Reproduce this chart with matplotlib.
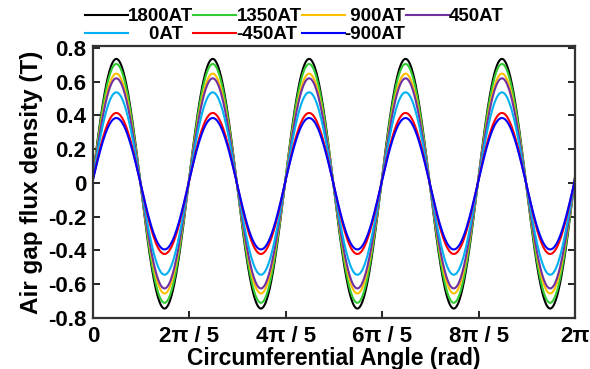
import numpy as np
import matplotlib.pyplot as plt

plt.rcParams['font.family'] = ['Liberation Sans', 'DejaVu Sans']
plt.rcParams['font.weight'] = 'bold'

# currents and peak values (T)
labels = ['1800AT', '1350AT', ' 900AT', '450AT', '    0AT', '-450AT', '-900AT']
colors = ['#000000', '#33cc33', '#ffc000', '#7030a0', '#00b0f0', '#ff0000', '#0000ff']
peak_pos = [0.734, 0.704, 0.647, 0.619, 0.536, 0.414, 0.384]
peak_neg = [0.744, 0.710, 0.655, 0.625, 0.544, 0.421, 0.394]
pole_pairs = 5
phase = 0.05

tick_pos = [0, 2*np.pi/5, 4*np.pi/5, 6*np.pi/5, 8*np.pi/5, 2*np.pi]
tick_lab = ['0', '2π / 5', '4π / 5', '6π / 5', '8π / 5', '2π']
ytick_pos = [-0.8, -0.6, -0.4, -0.2, 0, 0.2, 0.4, 0.6, 0.8]
ytick_lab = ['-0.8', '-0.6', '-0.4', '-0.2', '0', '0.2', '0.4', '0.6', '0.8']

theta = np.linspace(0, 2*np.pi, 1000)
wave = np.sin(pole_pairs*theta + phase)

fig = plt.figure(figsize=(5.9, 3.69), dpi=100)
ax = fig.add_axes([0.1576, 0.1382, 0.817, 0.737])

lines = []
for lab, c, ap, an in zip(labels, colors, peak_pos, peak_neg):
    y = np.where(wave > 0, ap*wave, an*wave)
    ln, = ax.plot(theta, y, color=c, lw=1.5, label=lab)
    lines.append(ln)

ax.set_xlim(0, 2*np.pi)
ax.set_ylim(-0.8, 0.81)
ax.set_xticks(tick_pos)
ax.set_xticklabels(tick_lab)
ax.set_yticks(ytick_pos)
ax.set_yticklabels(ytick_lab)
ax.tick_params(direction='in', length=5, width=1.2, labelsize=16, right=True)
ax.tick_params(axis='x', pad=6)
ax.tick_params(axis='y', pad=5)
for s in ax.spines.values():
    s.set_linewidth(1.6)
    s.set_color('#333333')

ax.set_xlabel('Circumferential Angle (rad)', fontsize=16.5, fontweight='bold', labelpad=0)
ax.set_ylabel('Air gap flux density (T)', fontsize=17.5, fontweight='bold', labelpad=3)

# reorder so that legend reads row by row
order = [0, 4, 1, 5, 2, 6, 3]
leg = fig.legend([lines[i] for i in order], [labels[i] for i in order],
                 ncol=4, loc='upper left', bbox_to_anchor=(0.144, 0.978),
                 frameon=False, fontsize=13.5, handlelength=2.3, handletextpad=0.0,
                 columnspacing=0.0, labelspacing=0.05, borderaxespad=0, borderpad=0)

fig.savefig('out.png', dpi=100)
